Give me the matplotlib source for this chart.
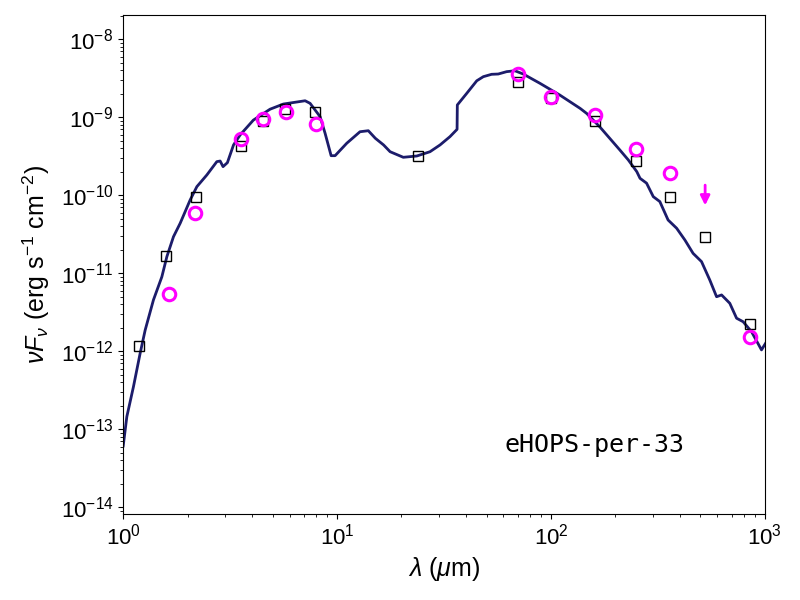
import numpy as np
import matplotlib
matplotlib.use("Agg")
from matplotlib import pyplot as plt

plt.rcParams["font.family"] = ["Liberation Sans", "DejaVu Sans"]
plt.rcParams["mathtext.fontset"] = "custom"
plt.rcParams["mathtext.rm"] = "Liberation Sans"
plt.rcParams["mathtext.it"] = "Liberation Sans:italic"
plt.rcParams["mathtext.bf"] = "Liberation Sans:bold"

# --- model SED ---
model_wl = [1.00, 1.04, 1.117, 1.20, 1.267, 1.385, 1.516, 1.60, 1.718, 1.847,
            2.056, 2.21, 2.46, 2.74, 2.84, 2.93, 3.07, 3.28, 3.52, 4.06,
            4.86, 5.61, 7.09, 7.48, 8.33, 8.79, 9.38, 9.79, 11.1, 12.8,
            14.0, 15.1, 16.5, 17.7, 20.4, 23.6, 27.2, 30.3, 33.7, 36.4,
            36.5, 40.4, 45.0, 48.3, 52.8, 56.7, 62.1, 67.9, 74.2, 88.8,
            110, 137, 147, 169, 210, 230, 252, 261, 280, 301,
            323, 353, 387, 423, 462, 506, 553, 595, 628, 686,
            738, 792, 867, 965, 1011]
model_flux = [6.1e-14, 1.45e-13, 3.52e-13, 9.4e-13, 1.87e-12, 4.55e-12, 9.0e-12, 1.63e-11, 2.94e-11, 4.38e-11,
              8.7e-11, 1.29e-10, 1.82e-10, 2.70e-10, 2.75e-10, 2.33e-10, 2.62e-10, 4.42e-10, 5.93e-10, 9.2e-10,
              1.27e-9, 1.48e-9, 1.63e-9, 1.51e-9, 1.02e-9, 6.24e-10, 3.22e-10, 3.22e-10, 4.65e-10, 6.53e-10,
              6.73e-10, 5.38e-10, 4.42e-10, 3.62e-10, 3.07e-10, 3.19e-10, 3.62e-10, 4.42e-10, 5.64e-10, 7.01e-10,
              1.44e-9, 2.03e-9, 2.94e-9, 3.32e-9, 3.56e-9, 3.59e-9, 3.85e-9, 3.95e-9, 3.59e-9, 2.73e-9,
              1.93e-9, 1.30e-9, 1.12e-9, 7.57e-10, 3.81e-10, 2.84e-10, 2.01e-10, 1.65e-10, 1.43e-10, 9.6e-11,
              8.3e-11, 4.82e-11, 3.78e-11, 2.67e-11, 1.80e-11, 1.41e-11, 8.2e-12, 5.0e-12, 5.27e-12, 4.12e-12,
              2.65e-12, 2.39e-12, 1.78e-12, 1.04e-12, 1.28e-12]

# --- model photometry (open squares) ---
mod_phot_wl = [1.19, 1.58, 2.18, 3.57, 4.5, 5.73, 7.9, 24, 70, 100, 161, 250, 361, 526, 850]
mod_phot_flux = [1.15e-12, 1.66e-11, 9.6e-11, 4.25e-10, 9.0e-10, 1.29e-9, 1.16e-9, 3.19e-10,
                 2.81e-9, 1.77e-9, 8.97e-10, 2.75e-10, 9.5e-11, 2.92e-11, 2.24e-12]

# --- observed photometry (magenta circles) ---
obs_wl = [1.63, 2.16, 3.57, 4.5, 5.8, 8.0, 70, 100, 161, 250, 361, 850]
obs_flux = [5.37e-12, 5.9e-11, 5.27e-10, 9.5e-10, 1.18e-9, 8.2e-10,
            3.62e-9, 1.8e-9, 1.07e-9, 3.9e-10, 1.91e-10, 1.52e-12]

# --- upper limit ---
lim_wl = [526]
lim_flux = [1.35e-10]

source_name = "eHOPS-per-33"

fig = plt.figure(figsize=(8, 6), dpi=100)
ax = fig.add_axes([0.154, 0.143, 0.802, 0.832])

ax.plot(model_wl, model_flux, color="#1c1c6b", lw=2.0, zorder=2)
ax.plot(mod_phot_wl, mod_phot_flux, ls="none", marker="s", ms=6.5,
        mfc="none", mec="black", mew=1.0, zorder=3)
ax.plot(obs_wl, obs_flux, ls="none", marker="o", ms=9,
        mfc="none", mec="magenta", mew=2.2, zorder=4)

# upper limit drawn as a downward arrow (0.26 dex long)
for w, f in zip(lim_wl, lim_flux):
    ax.annotate("", xy=(w, f * 10**-0.26), xytext=(w, f),
                arrowprops=dict(arrowstyle="-|>", color="magenta", lw=2,
                                mutation_scale=14, shrinkA=0, shrinkB=0),
                zorder=4)

ax.set_xscale("log")
ax.set_yscale("log")
ax.set_xlim(1, 1000)
ax.set_ylim(10**-14.09, 10**-7.688)

ax.set_xlabel(r"$\lambda$ ($\mu$m)", fontsize=18)
ax.set_ylabel(r"$\nu F_\nu$ (erg s$^{-1}$ cm$^{-2}$)", fontsize=18, labelpad=6)
ax.tick_params(axis="both", which="major", labelsize=16)

ax.text(0.595, 0.125, source_name, transform=ax.transAxes, fontsize=18,
        family="DejaVu Sans Mono", va="baseline", ha="left")

fig.savefig("out.png", dpi=100)
